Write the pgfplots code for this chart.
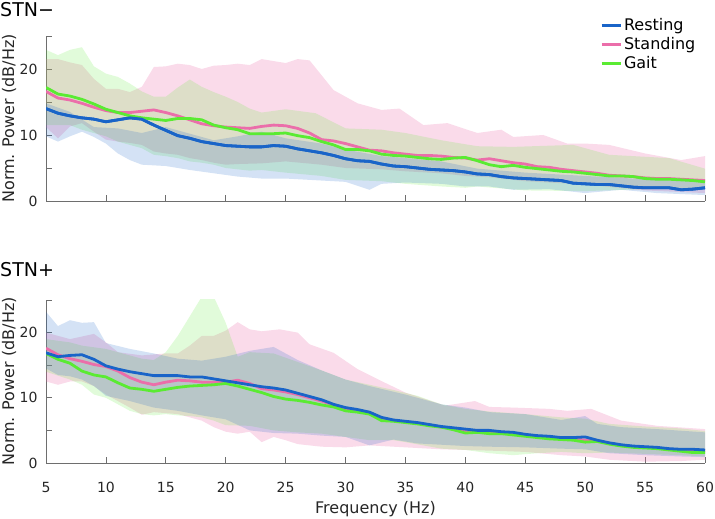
\documentclass[border=0pt]{standalone}
\usepackage{fontspec}
\setmainfont{DejaVu Sans}
\usepackage{pgfplots}
\usepackage{pgfplotstable}
\pgfplotsset{compat=1.18}
\usepgfplotslibrary{fillbetween}

\definecolor{crest}{RGB}{25,100,200}
\definecolor{cstand}{RGB}{235,110,170}
\definecolor{cgait}{RGB}{90,235,50}
\definecolor{axgray}{RGB}{110,110,110}

% mean spectra: f, resting, standing, gait
\pgfplotstableread{
f r s g
5 14.0 16.6 17.2
6 13.3 15.6 16.2
7 12.9 15.3 15.9
8 12.6 14.8 15.4
9 12.4 14.2 14.7
10 12.0 13.7 13.9
11 12.3 13.4 13.4
12 12.6 13.4 12.9
13 12.4 13.6 12.6
14 11.5 13.8 12.4
15 10.7 13.4 12.2
16 9.9 12.9 12.5
17 9.5 12.3 12.5
18 9.0 11.7 12.3
19 8.7 11.4 11.5
20 8.4 11.2 11.1
21 8.3 11.1 10.8
22 8.2 11.0 10.2
23 8.2 11.3 10.2
24 8.4 11.5 10.2
25 8.3 11.4 10.3
26 7.9 11.0 9.9
27 7.6 10.3 9.6
28 7.3 9.3 9.0
29 6.9 9.1 8.5
30 6.4 8.7 7.8
31 6.1 8.2 7.8
32 6.0 7.7 7.6
33 5.6 7.6 7.1
34 5.3 7.3 6.9
35 5.2 7.1 6.8
36 5.0 6.9 6.6
37 4.8 6.9 6.4
38 4.7 6.8 6.3
39 4.6 6.6 6.5
40 4.4 6.5 6.6
41 4.1 6.2 6.1
42 4.0 6.4 5.5
43 3.7 6.1 5.2
44 3.5 5.8 5.4
45 3.4 5.6 5.1
46 3.3 5.2 4.9
47 3.2 5.1 4.7
48 3.1 4.8 4.5
49 2.7 4.6 4.4
50 2.6 4.4 4.2
51 2.5 4.2 4.0
52 2.5 3.9 3.8
53 2.3 3.8 3.8
54 2.1 3.7 3.7
55 2.0 3.5 3.4
56 2.0 3.4 3.3
57 2.0 3.4 3.3
58 1.7 3.3 3.2
59 1.8 3.2 3.1
60 2.0 3.1 2.9
}\topmean

\pgfplotstableread{
f r s g
5 16.9 17.6 16.8
6 16.3 16.6 15.9
7 16.5 16.0 15.3
8 16.6 15.6 14.1
9 15.9 15.1 13.5
10 14.9 14.8 13.2
11 14.4 14.1 12.3
12 14.0 13.1 11.5
13 13.7 12.4 11.3
14 13.4 12.0 11.0
15 13.4 12.4 11.3
16 13.4 12.7 11.6
17 13.2 12.6 11.8
18 13.2 12.4 11.9
19 12.9 12.4 12.0
20 12.6 12.4 12.2
21 12.3 12.7 11.8
22 12.0 12.2 11.3
23 11.7 11.4 10.8
24 11.5 11.2 10.2
25 11.2 10.9 9.8
26 10.7 10.5 9.6
27 10.2 10.0 9.3
28 9.7 9.5 8.9
29 9.0 8.9 8.6
30 8.5 8.3 8.0
31 8.2 8.0 7.8
32 7.8 7.6 7.5
33 7.0 6.9 6.5
34 6.6 6.5 6.4
35 6.4 6.3 6.2
36 6.2 6.1 6.0
37 5.9 5.8 5.7
38 5.6 5.5 5.5
39 5.4 5.3 5.1
40 5.2 5.0 4.6
41 5.0 4.9 4.7
42 5.0 4.8 4.5
43 4.8 4.7 4.5
44 4.7 4.5 4.3
45 4.4 4.3 4.1
46 4.2 4.1 3.9
47 4.1 3.9 3.7
48 3.9 3.8 3.6
49 3.9 3.7 3.5
50 4.0 3.5 3.2
51 3.5 3.4 3.3
52 3.1 3.0 2.9
53 2.8 2.7 2.6
54 2.6 2.5 2.4
55 2.5 2.4 2.3
56 2.4 2.3 2.2
57 2.2 2.1 2.0
58 2.1 2.0 1.8
59 2.1 1.9 1.6
60 2.0 1.9 1.6
}\botmean

% shaded band: colour, opacity, id, upper coords, lower coords
\newcommand{\band}[5]{%
  \addplot[draw=none, forget plot, name path=#3u] coordinates {#4};
  \addplot[draw=none, forget plot, name path=#3l] coordinates {#5};
  \addplot[fill=#1, fill opacity=#2, draw=none, forget plot] fill between[of=#3u and #3l];
}

\pgfplotsset{
  psd/.style={
    scale only axis, width=659bp,
    xmin=5, xmax=60, ymin=0, ymax=25,
    axis x line*=bottom, axis y line*=left,
    tick align=inside, major tick length=6bp,
    xtick={5,10,...,60}, ytick={0,5,...,25},
    yticklabels={0,,10,,20,},
    axis line style={draw=axgray, line width=0.8bp},
    every tick/.style={draw=axgray, line width=0.8bp},
    tick label style={font=\fontsize{14bp}{16bp}\selectfont, text=black!85},
    xticklabel style={yshift=-16bp},
    yticklabel style={xshift=-5bp},
    /pgf/number format/assume math mode=true,
    ylabel={Norm. Power (dB/Hz)},
    label style={font=\fontsize{16bp}{18bp}\selectfont, text=black!85},
    ylabel style={at={(axis description cs:0,0.5)}, anchor=center, yshift=37bp},
  },
}

\begin{document}
\begin{tikzpicture}

\begin{axis}[psd, at={(46bp,318bp)}, anchor=south west, height=165bp,
  xticklabels={},
  legend style={at={(axis description cs:0.8407,1.120)}, anchor=north west,
    draw=none, fill=none, inner sep=0pt, row sep=1.5bp,
    font=\fontsize{16bp}{17bp}\selectfont, legend cell align=left},
  legend image code/.code={\draw[#1, line width=2.8bp] (0bp,0bp) -- (19bp,0bp);},
]
\band{cstand}{0.25}{ts}{(5,21.5) (6,21.5) (7,21.0) (8,20.6) (9,18.5) (10,17.0) (11,17.0) (12,16.5) (13,17.3) (14,20.3) (15,20.4) (16,20.8) (17,20.6) (18,20.0) (19,20.5) (20,20.6) (21,20.8) (22,20.6) (23,21.5) (25,20.9) (26,21.5) (27,21.3) (29,16.8) (31,14.8) (33,13.8) (34.5,14.0) (36.5,11.5) (38.5,11.8) (41,10.3) (43,10.8) (44,9.7) (46.5,10.0) (48.5,8.7) (50,8.7) (52,8.5) (55,7.2) (58,6.2) (60,6.8)}
  {(5,11.2) (6,9.5) (7,11.3) (8,11.8) (9,10.5) (10,9.3) (11,9.0) (12,8.8) (13,8.5) (14,7.5) (15,7.2) (16,7.0) (17,6.5) (18,6.2) (19,5.8) (20,5.5) (21,5.6) (23,5.7) (25,6.0) (28,5.5) (30,5.0) (33,4.8) (35,4.5) (38,4.2) (40,3.8) (42,3.6) (45,3.0) (50,2.5) (55,1.6) (60,1.2)}
\band{cgait}{0.18}{tg}{(5,22.9) (6,22.1) (7,22.9) (8,23.3) (9,20.4) (10,19.3) (11,18.8) (12,17.8) (13,16.6) (14,15.8) (15,15.8) (16,17.2) (17,18.4) (18,17.3) (19,16.5) (20,15.8) (21,15.0) (22,14.0) (23,13.4) (25,13.9) (27.5,13.3) (30,11.0) (33,10.8) (35,10.3) (38,9.2) (41,8.3) (44,8.2) (49,8.5) (52,7.0) (57,6.5) (60,4.9)}
  {(5,11.5) (7,11.5) (8,10.8) (10,9.8) (11,9.0) (12,8.5) (13,8.0) (14,7.0) (15,6.8) (16,6.5) (17,6.0) (18,5.8) (19,5.5) (20,5.0) (21,4.8) (22,4.6) (23,4.7) (25,4.3) (28,3.8) (30,3.2) (33,3.0) (35,2.6) (38,2.2) (40,2.0) (41,2.2) (45,1.6) (50,1.5) (55,1.8) (60,2.0)}
\band{crest}{0.19}{tr}{(5,14.8) (7,13.5) (9,11.2) (11,11.0) (13,10.3) (15,11.2) (17,10.2) (19,9.2) (21,9.8) (23,10.5) (25,9.5) (28,8.7) (30,7.8) (33,6.8) (35,6.5) (38,6.0) (41,4.9) (45,4.3) (50,3.8) (55,3.3) (60,2.9)}
  {(5,9.8) (6,9.0) (7,9.8) (8,10.5) (9,9.7) (10,8.7) (11,7.2) (12,6.2) (13,5.5) (15,5.3) (17,4.7) (19,4.2) (21,3.7) (23,3.4) (25,3.4) (27,3.2) (30,2.9) (32,1.7) (33,2.6) (35,2.8) (38,2.6) (40,2.2) (42,2.2) (44,1.7) (47,1.8) (50,1.2) (53,1.7) (56,1.2) (60,0.9)}
\addplot[crest, line width=2.8bp] table[x=f, y=r] {\topmean};
\addlegendentry{Resting}
\addplot[cstand, line width=2.8bp] table[x=f, y=s] {\topmean};
\addlegendentry{Standing}
\addplot[cgait, line width=2.8bp] table[x=f, y=g] {\topmean};
\addlegendentry{Gait}
\addplot[crest, line width=2.8bp, forget plot] table[x=f, y=r] {\topmean};
\end{axis}

\begin{axis}[psd, at={(46bp,56bp)}, anchor=south west, height=163bp,
  xlabel={Frequency (Hz)},
  xlabel style={at={(axis description cs:0.5,0)}, anchor=center, yshift=-46bp},
]
\band{cstand}{0.25}{bs}{(5,20.0) (7,19.0) (9,19.8) (10,18.5) (11,17.0) (13,16.5) (15,16.8) (16,16.8) (17,18.0) (18,19.5) (19,19.5) (20,20.3) (21,21.6) (22,20.5) (23,20.2) (24.5,20.5) (26,20.0) (27,18.2) (29,16.9) (31,14.4) (33.3,12.3) (35,10.8) (38.3,8.8) (40.8,9.5) (42,8.6) (44,8.5) (47,8.3) (48.5,8.0) (50.5,8.3) (53,6.5) (56,5.7) (60,5.2)}
  {(5,12.5) (6,12.0) (7,12.5) (8,12.5) (9,11.8) (10,10.5) (12,8.5) (13,7.4) (14,7.8) (16,7.5) (18,6.5) (19,5.5) (20,4.8) (21,4.5) (22,4.8) (23,3.2) (24,4.0) (25,3.5) (26,2.9) (28,2.5) (30,2.4) (32,2.7) (34,2.5) (36,2.3) (38,2.1) (40,2.0) (42,1.9) (45,1.7) (48,1.2) (50,1.0) (52,0.5) (55,0.2) (58,0.3) (60,0.5)}
\band{cgait}{0.18}{bg}{(5,19.0) (7,18.5) (8,18.0) (10,17.5) (12,16.5) (13,16.0) (14,15.8) (15,17.0) (16,19.5) (17,22.5) (18,25.5) (19,25.5) (20,21.5) (21,16.3) (22,17.0) (24,16.8) (26,15.5) (28,14.2) (30,12.8) (32,12.0) (34,11.2) (36,10.3) (38,9.0) (40,8.3) (42,7.9) (45,7.5) (48,7.0) (50,6.8) (52,6.0) (55,5.6) (58,5.3) (60,4.9)}
  {(5,14.0) (7,12.8) (8,12.0) (9,10.5) (10,10.0) (11,9.0) (12,8.0) (13,7.5) (14,7.3) (15,7.5) (16,7.3) (17,7.2) (18,7.0) (19,6.5) (20,5.8) (22,5.7) (24,5.0) (26,4.7) (28,4.5) (30,4.0) (32,3.5) (34,3.5) (35,3.2) (38,2.2) (40,2.0) (42,1.5) (44,1.2) (46,1.5) (48,1.7) (50,1.5) (52,1.6) (55,1.4) (58,1.2) (60,1.0)}
\band{crest}{0.19}{br}{(5,23.2) (6,21.0) (7,21.9) (8,21.5) (9,21.6) (10,18.4) (12,17.5) (14,16.8) (16,16.0) (18,15.7) (20,16.3) (22,17.2) (24,17.8) (26,15.8) (28,14.2) (30,12.8) (32,11.8) (35,10.5) (38,9.0) (40,8.5) (42,7.8) (45,7.5) (48,6.6) (50,7.2) (51,6.0) (53,5.5) (56,5.2) (60,4.7)}
  {(5,14.5) (6,13.5) (7,13.3) (8,12.8) (9,11.8) (10,10.3) (12,9.5) (14,8.5) (16,8.0) (18,7.3) (20,6.7) (22,5.0) (24,4.6) (26,4.5) (28,4.2) (30,4.0) (32,2.7) (34,3.6) (36,3.0) (38,2.8) (40,2.6) (42,2.5) (45,2.4) (48,2.2) (50,2.1) (52,1.5) (55,1.2) (58,1.0) (60,0.9)}
\addplot[cstand, line width=2.8bp] table[x=f, y=s] {\botmean};
\addplot[cgait, line width=2.8bp] table[x=f, y=g] {\botmean};
\addplot[crest, line width=2.8bp] table[x=f, y=r] {\botmean};
\end{axis}

\node[anchor=west, inner sep=0pt, font=\fontsize{19bp}{22bp}\selectfont] at (0bp,509bp) {STN−};
\node[anchor=west, inner sep=0pt, font=\fontsize{19bp}{22bp}\selectfont] at (0bp,249bp) {STN+};

\pgfresetboundingbox
\path (0,0) rectangle (715bp,519bp);
\end{tikzpicture}
\end{document}
